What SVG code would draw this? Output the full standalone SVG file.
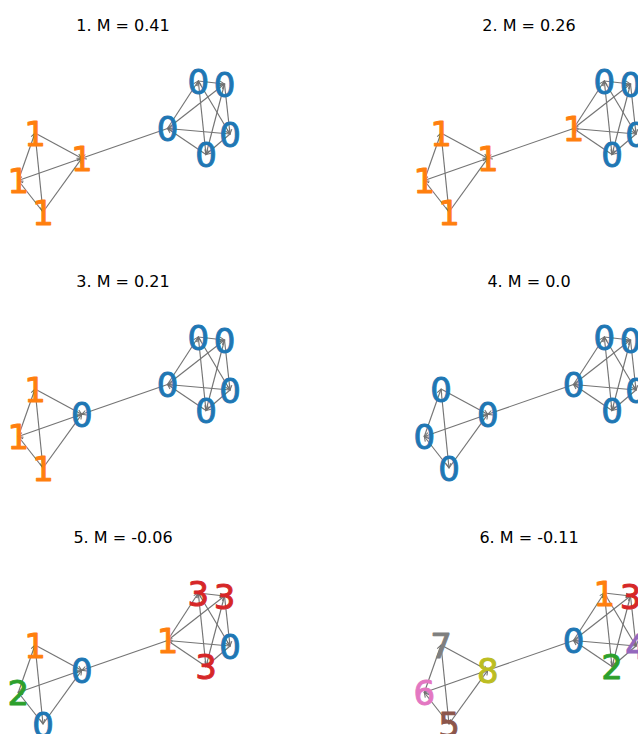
<svg xmlns="http://www.w3.org/2000/svg" xmlns:xlink="http://www.w3.org/1999/xlink" width="638" height="734" viewBox="0 0 638 734">
<style>
.t{font-family:"DejaVu Sans","Liberation Sans",sans-serif;font-size:16px;fill:#000;text-anchor:middle}
.n{font-family:"DejaVu Sans","Liberation Sans",sans-serif;font-size:34px;text-anchor:middle;stroke-width:0.9px;stroke-linejoin:round}
.c0{fill:#1f77b4;stroke:#1f77b4}.c1{fill:#ff7f0e;stroke:#ff7f0e}.c2{fill:#2ca02c;stroke:#2ca02c}.c3{fill:#d62728;stroke:#d62728}.c4{fill:#9467bd;stroke:#9467bd}.c5{fill:#8c564b;stroke:#8c564b}.c6{fill:#e377c2;stroke:#e377c2}.c7{fill:#7f7f7f;stroke:#7f7f7f}.c8{fill:#bcbd22;stroke:#bcbd22}
</style>
<defs>
<marker id="ah" markerUnits="userSpaceOnUse" markerWidth="8" markerHeight="8" refX="0" refY="0" viewBox="-5 -3 6 6" orient="auto">
<path d="M-3.5,-1.8 L0,0 L-3.5,1.8" fill="none" stroke="#707070" stroke-width="0.8"/>
</marker>
<g id="edges" stroke="#747474" stroke-width="1.15" fill="none" marker-end="url(#ah)">
<line x1="18.3" y1="180.5" x2="35" y2="133"/>
<line x1="35" y1="133" x2="43" y2="212"/>
<line x1="35" y1="133" x2="81.7" y2="158.3"/>
<line x1="81.7" y1="158.3" x2="18.3" y2="180.5"/>
<line x1="43" y1="212" x2="18.3" y2="180.5"/>
<line x1="43" y1="212" x2="81.7" y2="158.3"/>
<line x1="167.5" y1="128.5" x2="81.7" y2="158.3"/>
<line x1="167.5" y1="128.5" x2="198.3" y2="81"/>
<line x1="167.5" y1="128.5" x2="224.5" y2="84"/>
<line x1="230" y1="134" x2="167.5" y2="128.5"/>
<line x1="206" y1="154.5" x2="167.5" y2="128.5"/>
<line x1="198.3" y1="81" x2="224.5" y2="84"/>
<line x1="198.3" y1="81" x2="230" y2="134"/>
<line x1="206" y1="154.5" x2="198.3" y2="81"/>
<line x1="224.5" y1="84" x2="230" y2="134"/>
<line x1="224.5" y1="84" x2="206" y2="154.5"/>
<line x1="230" y1="134" x2="206" y2="154.5"/>
</g>
</defs>

<g id="panel1">
<text class="t" x="123" y="31">1. M = 0.41</text>
<g id="p1-connectors"><use xlink:href="#edges"/></g>
<g id="p1-nA"><text class="n c1" x="35" y="145.5">1</text></g>
<g id="p1-nB"><text class="n c1" x="18.3" y="193">1</text></g>
<g id="p1-nC"><text class="n c1" x="43" y="224.5">1</text></g>
<g id="p1-nD"><text class="n c1" x="81.7" y="170.8">1</text></g>
<g id="p1-nE"><text class="n c0" x="167.5" y="141">0</text></g>
<g id="p1-nF"><text class="n c0" x="198.3" y="93.5">0</text></g>
<g id="p1-nG"><text class="n c0" x="224.5" y="96.5">0</text></g>
<g id="p1-nH"><text class="n c0" x="230" y="146.5">0</text></g>
<g id="p1-nI"><text class="n c0" x="206" y="167">0</text></g>
</g>

<g id="panel2" transform="translate(406,0)">
<text class="t" x="123" y="31">2. M = 0.26</text>
<g id="p2-connectors"><use xlink:href="#edges"/></g>
<g id="p2-nA"><text class="n c1" x="35" y="145.5">1</text></g>
<g id="p2-nB"><text class="n c1" x="18.3" y="193">1</text></g>
<g id="p2-nC"><text class="n c1" x="43" y="224.5">1</text></g>
<g id="p2-nD"><text class="n c1" x="81.7" y="170.8">1</text></g>
<g id="p2-nE"><text class="n c1" x="167.5" y="141">1</text></g>
<g id="p2-nF"><text class="n c0" x="198.3" y="93.5">0</text></g>
<g id="p2-nG"><text class="n c0" x="224.5" y="96.5">0</text></g>
<g id="p2-nH"><text class="n c0" x="230" y="146.5">0</text></g>
<g id="p2-nI"><text class="n c0" x="206" y="167">0</text></g>
</g>

<g id="panel3" transform="translate(0,256)">
<text class="t" x="123" y="31">3. M = 0.21</text>
<g id="p3-connectors"><use xlink:href="#edges"/></g>
<g id="p3-nA"><text class="n c1" x="35" y="145.5">1</text></g>
<g id="p3-nB"><text class="n c1" x="18.3" y="193">1</text></g>
<g id="p3-nC"><text class="n c1" x="43" y="224.5">1</text></g>
<g id="p3-nD"><text class="n c0" x="81.7" y="170.8">0</text></g>
<g id="p3-nE"><text class="n c0" x="167.5" y="141">0</text></g>
<g id="p3-nF"><text class="n c0" x="198.3" y="93.5">0</text></g>
<g id="p3-nG"><text class="n c0" x="224.5" y="96.5">0</text></g>
<g id="p3-nH"><text class="n c0" x="230" y="146.5">0</text></g>
<g id="p3-nI"><text class="n c0" x="206" y="167">0</text></g>
</g>

<g id="panel4" transform="translate(406,256)">
<text class="t" x="123" y="31">4. M = 0.0</text>
<g id="p4-connectors"><use xlink:href="#edges"/></g>
<g id="p4-nA"><text class="n c0" x="35" y="145.5">0</text></g>
<g id="p4-nB"><text class="n c0" x="18.3" y="193">0</text></g>
<g id="p4-nC"><text class="n c0" x="43" y="224.5">0</text></g>
<g id="p4-nD"><text class="n c0" x="81.7" y="170.8">0</text></g>
<g id="p4-nE"><text class="n c0" x="167.5" y="141">0</text></g>
<g id="p4-nF"><text class="n c0" x="198.3" y="93.5">0</text></g>
<g id="p4-nG"><text class="n c0" x="224.5" y="96.5">0</text></g>
<g id="p4-nH"><text class="n c0" x="230" y="146.5">0</text></g>
<g id="p4-nI"><text class="n c0" x="206" y="167">0</text></g>
</g>

<g id="panel5" transform="translate(0,512)">
<text class="t" x="123" y="31">5. M = -0.06</text>
<g id="p5-connectors"><use xlink:href="#edges"/></g>
<g id="p5-nA"><text class="n c1" x="35" y="145.5">1</text></g>
<g id="p5-nB"><text class="n c2" x="18.3" y="193">2</text></g>
<g id="p5-nC"><text class="n c0" x="43" y="224.5">0</text></g>
<g id="p5-nD"><text class="n c0" x="81.7" y="170.8">0</text></g>
<g id="p5-nE"><text class="n c1" x="167.5" y="141">1</text></g>
<g id="p5-nF"><text class="n c3" x="198.3" y="93.5">3</text></g>
<g id="p5-nG"><text class="n c3" x="224.5" y="96.5">3</text></g>
<g id="p5-nH"><text class="n c0" x="230" y="146.5">0</text></g>
<g id="p5-nI"><text class="n c3" x="206" y="167">3</text></g>
</g>

<g id="panel6" transform="translate(406,512)">
<text class="t" x="123" y="31">6. M = -0.11</text>
<g id="p6-connectors"><use xlink:href="#edges"/></g>
<g id="p6-nA"><text class="n c7" x="35" y="145.5">7</text></g>
<g id="p6-nB"><text class="n c6" x="18.3" y="193">6</text></g>
<g id="p6-nC"><text class="n c5" x="43" y="224.5">5</text></g>
<g id="p6-nD"><text class="n c8" x="81.7" y="170.8">8</text></g>
<g id="p6-nE"><text class="n c0" x="167.5" y="141">0</text></g>
<g id="p6-nF"><text class="n c1" x="198.3" y="93.5">1</text></g>
<g id="p6-nG"><text class="n c3" x="224.5" y="96.5">3</text></g>
<g id="p6-nH"><text class="n c4" x="230" y="146.5">4</text></g>
<g id="p6-nI"><text class="n c2" x="206" y="167">2</text></g>
</g>
</svg>
